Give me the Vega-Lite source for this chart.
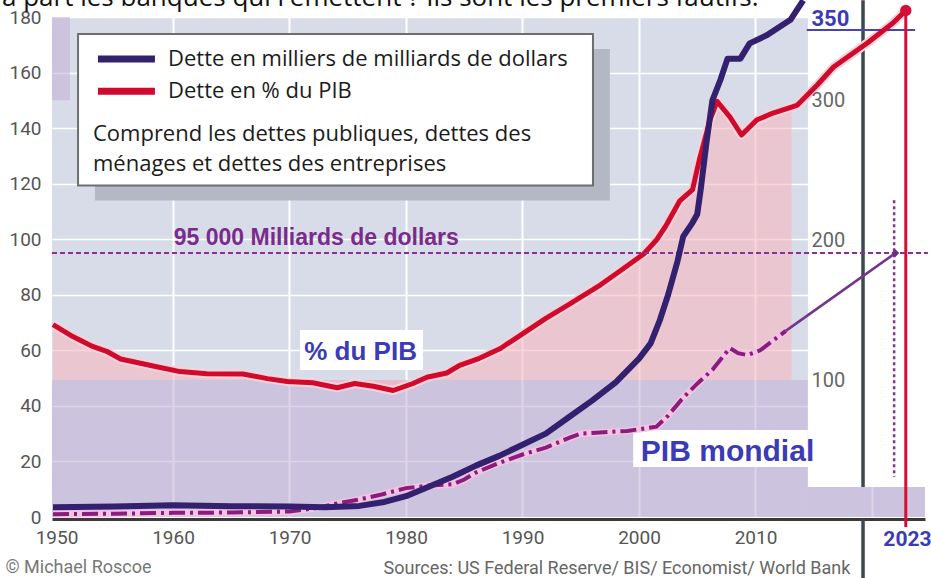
{
  "$schema": "https://vega.github.io/schema/vega-lite/v6.json",
  "width": 873,
  "height": 500,
  "autosize": {"type": "none"},
  "padding": {"left": 52, "top": 17, "right": 6, "bottom": 61},
  "config": {"view": {"fill": "#d7dce8", "stroke": null}, "font": "Roboto"},
  "datasets": {
    "lavender": [
      {"x1": 1949.614, "x2": 2014.5, "y1": 0, "y2": 49.3},
      {"x1": 2014.5, "x2": 2024.55, "y1": 0, "y2": 10.8},
      {"x1": 1949.614, "x2": 1951.16, "y1": 150, "y2": 180}
    ],
    "whiteR": [{"x1": 2014.5, "x2": 2024.55, "y1": 10.8, "y2": 186}],
    "darkrule": [{"year": 2019.23, "y1": 10.8, "y2": 186}, {"year": 2019.23, "y1": -0.8, "y2": -22}],
    "pct": [
      {"year": 1949.7, "p": 139.5}, {"year": 1951.4, "p": 131}, {"year": 1953.1, "p": 124}, {"year": 1954.3, "p": 120.5},
      {"year": 1955.5, "p": 115}, {"year": 1957.2, "p": 112}, {"year": 1958.6, "p": 109.5}, {"year": 1960.6, "p": 106},
      {"year": 1962.9, "p": 104.5}, {"year": 1966, "p": 104.3}, {"year": 1968.1, "p": 101}, {"year": 1969.8, "p": 99},
      {"year": 1972, "p": 98}, {"year": 1974.1, "p": 94.5}, {"year": 1975.6, "p": 97.5}, {"year": 1977.2, "p": 95.5},
      {"year": 1978.9, "p": 92.5}, {"year": 1980.6, "p": 97.5}, {"year": 1981.8, "p": 102}, {"year": 1983.5, "p": 105},
      {"year": 1984.6, "p": 110.5}, {"year": 1986.3, "p": 115.5}, {"year": 1988.1, "p": 122.5}, {"year": 1990, "p": 133},
      {"year": 1992, "p": 144}, {"year": 1994, "p": 154}, {"year": 1996.7, "p": 168}, {"year": 1998.4, "p": 178},
      {"year": 2000.4, "p": 190}, {"year": 2001.5, "p": 200}, {"year": 2002.3, "p": 210}, {"year": 2003.5, "p": 228},
      {"year": 2004.6, "p": 236}, {"year": 2005.2, "p": 258}, {"year": 2006.1, "p": 286}, {"year": 2006.7, "p": 299},
      {"year": 2007.8, "p": 288}, {"year": 2008.8, "p": 275}, {"year": 2010.1, "p": 285.7}, {"year": 2011.5, "p": 290.7},
      {"year": 2013.1, "p": 295}, {"year": 2013.6, "p": 296.4}, {"year": 2015.3, "p": 310.7}, {"year": 2016.7, "p": 323.6},
      {"year": 2019.6, "p": 340.7}, {"year": 2021.8, "p": 355}, {"year": 2022.9, "p": 364}
    ],
    "marker2023": [{"year": 2022.9, "p": 364, "p2": -5}],
    "underline": [{"x1": 2014.4, "x2": 2023.7, "p": 350}],
    "debt": [
      {"year": 1949.7, "v": 3.5}, {"year": 1955, "v": 3.8}, {"year": 1960, "v": 4.2}, {"year": 1965, "v": 3.9},
      {"year": 1970, "v": 3.8}, {"year": 1973, "v": 3.5}, {"year": 1976, "v": 4}, {"year": 1978, "v": 5.3},
      {"year": 1980, "v": 7.5}, {"year": 1982, "v": 11}, {"year": 1984, "v": 14.5}, {"year": 1986, "v": 18.5},
      {"year": 1988, "v": 22}, {"year": 1990, "v": 26}, {"year": 1992, "v": 30}, {"year": 1994, "v": 36},
      {"year": 1996, "v": 42}, {"year": 1998, "v": 48.5}, {"year": 2000, "v": 57}, {"year": 2001, "v": 62.5},
      {"year": 2001.8, "v": 71}, {"year": 2002.5, "v": 80}, {"year": 2003.3, "v": 92}, {"year": 2003.8, "v": 101},
      {"year": 2004.6, "v": 106}, {"year": 2005, "v": 109}, {"year": 2005.3, "v": 118}, {"year": 2005.8, "v": 135},
      {"year": 2006.3, "v": 150}, {"year": 2007, "v": 157.5}, {"year": 2007.6, "v": 165}, {"year": 2008.7, "v": 165},
      {"year": 2009.5, "v": 170.5}, {"year": 2011, "v": 173.5}, {"year": 2013, "v": 179}, {"year": 2014.1, "v": 186}
    ],
    "pib": [
      {"year": 1949.7, "v": 1.0}, {"year": 1955, "v": 1.2}, {"year": 1960, "v": 1.5}, {"year": 1965, "v": 1.6},
      {"year": 1970, "v": 2.0}, {"year": 1972, "v": 3.0}, {"year": 1974, "v": 4.8}, {"year": 1976, "v": 6.3},
      {"year": 1978, "v": 8.2}, {"year": 1980, "v": 10.4}, {"year": 1982, "v": 11.3}, {"year": 1984, "v": 11.8},
      {"year": 1985, "v": 13.5}, {"year": 1986, "v": 16}, {"year": 1988, "v": 19.5}, {"year": 1990, "v": 22.5},
      {"year": 1992, "v": 25}, {"year": 1994, "v": 28.5}, {"year": 1995, "v": 30}, {"year": 1997, "v": 30.5},
      {"year": 1999, "v": 31}, {"year": 2001.5, "v": 32.5}, {"year": 2002.5, "v": 36.5}, {"year": 2003.8, "v": 43},
      {"year": 2005, "v": 48}, {"year": 2006.3, "v": 53}, {"year": 2007.8, "v": 60.8}, {"year": 2008.5, "v": 59},
      {"year": 2009.3, "v": 58.3}, {"year": 2010.4, "v": 60}, {"year": 2011.5, "v": 63.5}, {"year": 2012.6, "v": 67}
    ],
    "pibproj": [{"year": 2012.6, "v": 67}, {"year": 2022, "v": 95}],
    "pibend": [{"year": 2022, "v": 95}],
    "line95": [{"x1": 1949.614, "x2": 2024.8, "v": 95}],
    "dotted": [{"year": 2021.9, "v1": 114, "v2": 14.4}],
    "legendshadow": [{"x1": 1953.3, "x2": 1997.5, "y1": 113.9, "y2": 168.5}],
    "legendbox": [{"x1": 1951.85, "x2": 1996.05, "y1": 119.3, "y2": 173.9}],
    "legendrows": [
      {"s": "Dette en milliers de milliards de dollars", "x1": 1953.56, "x2": 1958.45, "tx": 1959.57, "v": 164.9},
      {"s": "Dette en % du PIB", "x1": 1953.56, "x2": 1958.45, "tx": 1959.57, "v": 153.3}
    ],
    "note": [
      {"year": 1953.13, "v": 137.9, "t": "Comprend les dettes publiques, dettes des"},
      {"year": 1953.13, "v": 127.1, "t": "ménages et dettes des entreprises"}
    ],
    "headline": [{"year": 1945.32, "v": 183.9, "t": "à part les banques qui l'émettent ?  Ils sont les premiers fautifs."}],
    "textboxes": [
      {"x1": 1970.9, "x2": 1981.46, "y1": 52.9, "y2": 67.3},
      {"x1": 1999.5, "x2": 2014.5, "y1": 18, "y2": 31.3}
    ],
    "lblPct": [{"year": 1976.1, "v": 59.4, "t": "% du PIB"}],
    "lblPib": [{"year": 2007.6, "v": 23.4, "t": "PIB mondial"}],
    "lbl95": [{"year": 1972.3, "v": 100.4, "t": "95 000 Milliards de dollars"}]
  },
  "layer": [
    {
      "layer": [
        {
          "data": {"name": "lavender"},
          "mark": {"type": "rect", "color": "#c2b1d6", "opacity": 0.55},
          "encoding": {
            "x": {"field": "x1", "type": "quantitative", "scale": {"domain": [1949.614, 2024.55], "nice": false, "zero": false},
              "axis": {
                "orient": "bottom", "offset": 2, "values": [1950, 1960, 1970, 1980, 1990, 2000, 2010, 2020, 2023],
                "format": "d", "labelExpr": "datum.value == 2020 ? '' : datum.label",
                "grid": true, "gridColor": {"condition": {"test": "datum.value == 1950 || datum.value == 2023", "value": "transparent"}, "value": "#ffffff"}, "gridWidth": 2,
                "ticks": false, "domainColor": "#3a3a3a", "domainWidth": 3,
                "labelFont": "Roboto",
                "labelFontSize": {"condition": {"test": "datum.value == 2023", "value": 21}, "value": 19},
                "labelColor": {"condition": {"test": "datum.value == 2023", "value": "#3b3bb5"}, "value": "#555555"},
                "labelFontWeight": {"condition": {"test": "datum.value == 2023", "value": "bold"}, "value": "normal"},
                "labelPadding": 9, "labelFlush": false, "labelOverlap": false,
                "title": "Sources: US Federal Reserve/ BIS/ Economist/ World Bank",
                "titleX": 331, "titleY": 49, "titleAlign": "left", "titleBaseline": "middle", "titleFont": "Roboto", "titleFontSize": 18, "titleFontWeight": "normal", "titleColor": "#666666"
              }
            },
            "x2": {"field": "x2"},
            "y": {"field": "y1", "type": "quantitative", "scale": {"domain": [0, 180], "nice": false, "zero": false},
              "axis": {
                "orient": "left", "values": [0, 10, 20, 30, 40, 50, 60, 70, 80, 90, 100, 110, 120, 130, 140, 150, 160, 170, 180],
                "labelExpr": "datum.value % 20 == 0 ? datum.label : ''",
                "grid": true, "gridColor": "#ffffff", "gridWidth": 1.5, "ticks": false, "domain": false,
                "labelFont": "Roboto", "labelFontSize": 19, "labelColor": "#555555", "labelPadding": 11,
                "title": "© Michael Roscoe", "titleAngle": 0, "titleX": -47, "titleY": 550, "titleAlign": "left", "titleBaseline": "middle",
                "titleFont": "Roboto", "titleFontSize": 18, "titleFontWeight": "normal", "titleColor": "#777777"
              }
            },
            "y2": {"field": "y2"}
          }
        },
        {
          "data": {"name": "whiteR"},
          "mark": {"type": "rect", "color": "#ffffff"},
          "encoding": {
            "x": {"field": "x1", "type": "quantitative"}, "x2": {"field": "x2"},
            "y": {"field": "y1", "type": "quantitative"}, "y2": {"field": "y2"}
          }
        },
        {
          "data": {"name": "darkrule"},
          "mark": {"type": "rule", "color": "#3c4752", "strokeWidth": 3.5},
          "encoding": {
            "x": {"field": "year", "type": "quantitative"},
            "y": {"field": "y1", "type": "quantitative"}, "y2": {"field": "y2"}
          }
        }
      ]
    },
    {
      "layer": [
        {
          "data": {"name": "pct"},
          "transform": [{"filter": "datum.year <= 2013.2"}],
          "mark": {"type": "area", "color": "#f7b7c1", "opacity": 0.6},
          "encoding": {
            "x": {"field": "year", "type": "quantitative"},
            "y": {"field": "p", "type": "quantitative", "scale": {"domain": [2.14, 359.3], "nice": false, "zero": false},
              "axis": {
                "orient": "right", "offset": -114, "zindex": 1, "values": [100, 200, 300, 350], "grid": false, "ticks": false, "domain": false,
                "labelFont": "Roboto",
                "labelFontSize": {"condition": {"test": "datum.value == 350", "value": 22}, "value": 20},
                "labelColor": {"condition": {"test": "datum.value == 350", "value": "#3b3bb5"}, "value": "#666666"},
                "labelFontWeight": {"condition": {"test": "datum.value == 350", "value": "bold"}, "value": "normal"},
                "labelBaseline": {"condition": {"test": "datum.value == 350", "value": "bottom"}, "value": "middle"},
                "labelPadding": 0, "title": null
              }
            },
            "y2": {"datum": 100}
          }
        },
        {
          "data": {"name": "pct"},
          "mark": {"type": "line", "color": "#fcd3d9", "strokeWidth": 9, "strokeJoin": "round"},
          "encoding": {
            "x": {"field": "year", "type": "quantitative"},
            "y": {"field": "p", "type": "quantitative"}
          }
        },
        {
          "data": {"name": "underline"},
          "mark": {"type": "rule", "color": "#4545b5", "strokeWidth": 2},
          "encoding": {
            "x": {"field": "x1", "type": "quantitative"}, "x2": {"field": "x2"},
            "y": {"field": "p", "type": "quantitative"}
          }
        },
        {
          "data": {"name": "marker2023"},
          "mark": {"type": "rule", "color": "#d40f37", "strokeWidth": 3},
          "encoding": {
            "x": {"field": "year", "type": "quantitative"},
            "y": {"field": "p", "type": "quantitative"}, "y2": {"field": "p2"}
          }
        },
        {
          "data": {"name": "pct"},
          "mark": {"type": "line", "strokeWidth": 5, "strokeJoin": "round"},
          "encoding": {
            "x": {"field": "year", "type": "quantitative"},
            "y": {"field": "p", "type": "quantitative"},
            "color": {"datum": "Dette en % du PIB", "type": "nominal", "legend": null}
          }
        },
        {
          "data": {"name": "marker2023"},
          "mark": {"type": "point", "filled": true, "color": "#d40f37", "size": 130, "opacity": 1},
          "encoding": {
            "x": {"field": "year", "type": "quantitative"},
            "y": {"field": "p", "type": "quantitative"}
          }
        }
      ]
    },
    {
      "layer": [
        {
          "data": {"name": "legendshadow"},
          "mark": {"type": "rect", "color": "#b3b8c4"},
          "encoding": {
            "x": {"field": "x1", "type": "quantitative"}, "x2": {"field": "x2"},
            "y": {"field": "y1", "type": "quantitative", "scale": {"domain": [0, 180], "nice": false, "zero": false}, "axis": null},
            "y2": {"field": "y2"}
          }
        },
        {
          "data": {"name": "legendbox"},
          "mark": {"type": "rect", "fill": "#ffffff", "stroke": "#6e6e6e", "strokeWidth": 2},
          "encoding": {
            "x": {"field": "x1", "type": "quantitative"}, "x2": {"field": "x2"},
            "y": {"field": "y1", "type": "quantitative", "axis": null}, "y2": {"field": "y2"}
          }
        },
        {
          "data": {"name": "legendrows"},
          "mark": {"type": "rule", "strokeWidth": 7},
          "encoding": {
            "x": {"field": "x1", "type": "quantitative"}, "x2": {"field": "x2"},
            "y": {"field": "v", "type": "quantitative", "axis": null},
            "color": {"field": "s", "type": "nominal", "legend": null,
              "scale": {"domain": ["Dette en milliers de milliards de dollars", "Dette en % du PIB"], "range": ["#33206e", "#cf0a2c"]}}
          }
        },
        {
          "data": {"name": "legendrows"},
          "mark": {"type": "text", "align": "left", "baseline": "middle", "font": "Open Sans", "fontSize": 22, "color": "#1b1b1b"},
          "encoding": {
            "x": {"field": "tx", "type": "quantitative"},
            "y": {"field": "v", "type": "quantitative", "axis": null},
            "text": {"field": "s"}
          }
        },
        {
          "data": {"name": "note"},
          "mark": {"type": "text", "align": "left", "baseline": "middle", "font": "Open Sans", "fontSize": 22, "color": "#1b1b1b"},
          "encoding": {
            "x": {"field": "year", "type": "quantitative"},
            "y": {"field": "v", "type": "quantitative", "axis": null},
            "text": {"field": "t"}
          }
        },
        {
          "data": {"name": "headline"},
          "mark": {"type": "text", "align": "left", "baseline": "alphabetic", "font": "Open Sans", "fontSize": 26, "color": "#111111"},
          "encoding": {
            "x": {"field": "year", "type": "quantitative"},
            "y": {"field": "v", "type": "quantitative", "axis": null},
            "text": {"field": "t"}
          }
        },
        {
          "data": {"name": "textboxes"},
          "mark": {"type": "rect", "color": "#ffffff"},
          "encoding": {
            "x": {"field": "x1", "type": "quantitative"}, "x2": {"field": "x2"},
            "y": {"field": "y1", "type": "quantitative", "axis": null}, "y2": {"field": "y2"}
          }
        },
        {
          "data": {"name": "lblPct"},
          "mark": {"type": "text", "align": "center", "baseline": "middle", "font": "Liberation Sans", "fontWeight": "bold", "fontSize": 26, "color": "#3b3bb5"},
          "encoding": {
            "x": {"field": "year", "type": "quantitative"},
            "y": {"field": "v", "type": "quantitative", "axis": null},
            "text": {"field": "t"}
          }
        },
        {
          "data": {"name": "lblPib"},
          "mark": {"type": "text", "align": "center", "baseline": "middle", "font": "Liberation Sans", "fontWeight": "bold", "fontSize": 30, "color": "#3b3bb5"},
          "encoding": {
            "x": {"field": "year", "type": "quantitative"},
            "y": {"field": "v", "type": "quantitative", "axis": null},
            "text": {"field": "t"}
          }
        },
        {
          "data": {"name": "line95"},
          "mark": {"type": "rule", "color": "#8b2f93", "strokeWidth": 2, "strokeDash": [5, 3]},
          "encoding": {
            "x": {"field": "x1", "type": "quantitative"}, "x2": {"field": "x2"},
            "y": {"field": "v", "type": "quantitative", "axis": null}
          }
        },
        {
          "data": {"name": "lbl95"},
          "mark": {"type": "text", "align": "center", "baseline": "middle", "font": "Liberation Sans", "fontWeight": "bold", "fontSize": 23, "color": "#7a2b8c"},
          "encoding": {
            "x": {"field": "year", "type": "quantitative"},
            "y": {"field": "v", "type": "quantitative", "axis": null},
            "text": {"field": "t"}
          }
        },
        {
          "data": {"name": "dotted"},
          "mark": {"type": "rule", "color": "#8b2f93", "strokeWidth": 2.5, "strokeDash": [3, 3]},
          "encoding": {
            "x": {"field": "year", "type": "quantitative"},
            "y": {"field": "v1", "type": "quantitative", "axis": null}, "y2": {"field": "v2"}
          }
        },
        {
          "data": {"name": "pib"},
          "mark": {"type": "line", "color": "#f3c3e3", "strokeWidth": 7},
          "encoding": {
            "x": {"field": "year", "type": "quantitative"},
            "y": {"field": "v", "type": "quantitative", "axis": null}
          }
        },
        {
          "data": {"name": "pib"},
          "mark": {"type": "line", "color": "#8a1c7c", "strokeWidth": 4, "strokeDash": [16, 5, 3, 5]},
          "encoding": {
            "x": {"field": "year", "type": "quantitative"},
            "y": {"field": "v", "type": "quantitative", "axis": null}
          }
        },
        {
          "data": {"name": "pibproj"},
          "mark": {"type": "line", "color": "#74358c", "strokeWidth": 2.5},
          "encoding": {
            "x": {"field": "year", "type": "quantitative"},
            "y": {"field": "v", "type": "quantitative", "axis": null}
          }
        },
        {
          "data": {"name": "pibend"},
          "mark": {"type": "point", "shape": "diamond", "filled": true, "color": "#6b2d82", "size": 60, "opacity": 1},
          "encoding": {
            "x": {"field": "year", "type": "quantitative"},
            "y": {"field": "v", "type": "quantitative", "axis": null}
          }
        },
        {
          "data": {"name": "debt"},
          "mark": {"type": "line", "strokeWidth": 6, "strokeJoin": "round"},
          "encoding": {
            "x": {"field": "year", "type": "quantitative"},
            "y": {"field": "v", "type": "quantitative", "axis": null},
            "color": {"datum": "Dette en milliers de milliards de dollars", "type": "nominal", "legend": null}
          }
        }
      ]
    }
  ],
  "resolve": {"scale": {"y": "independent"}}
}
